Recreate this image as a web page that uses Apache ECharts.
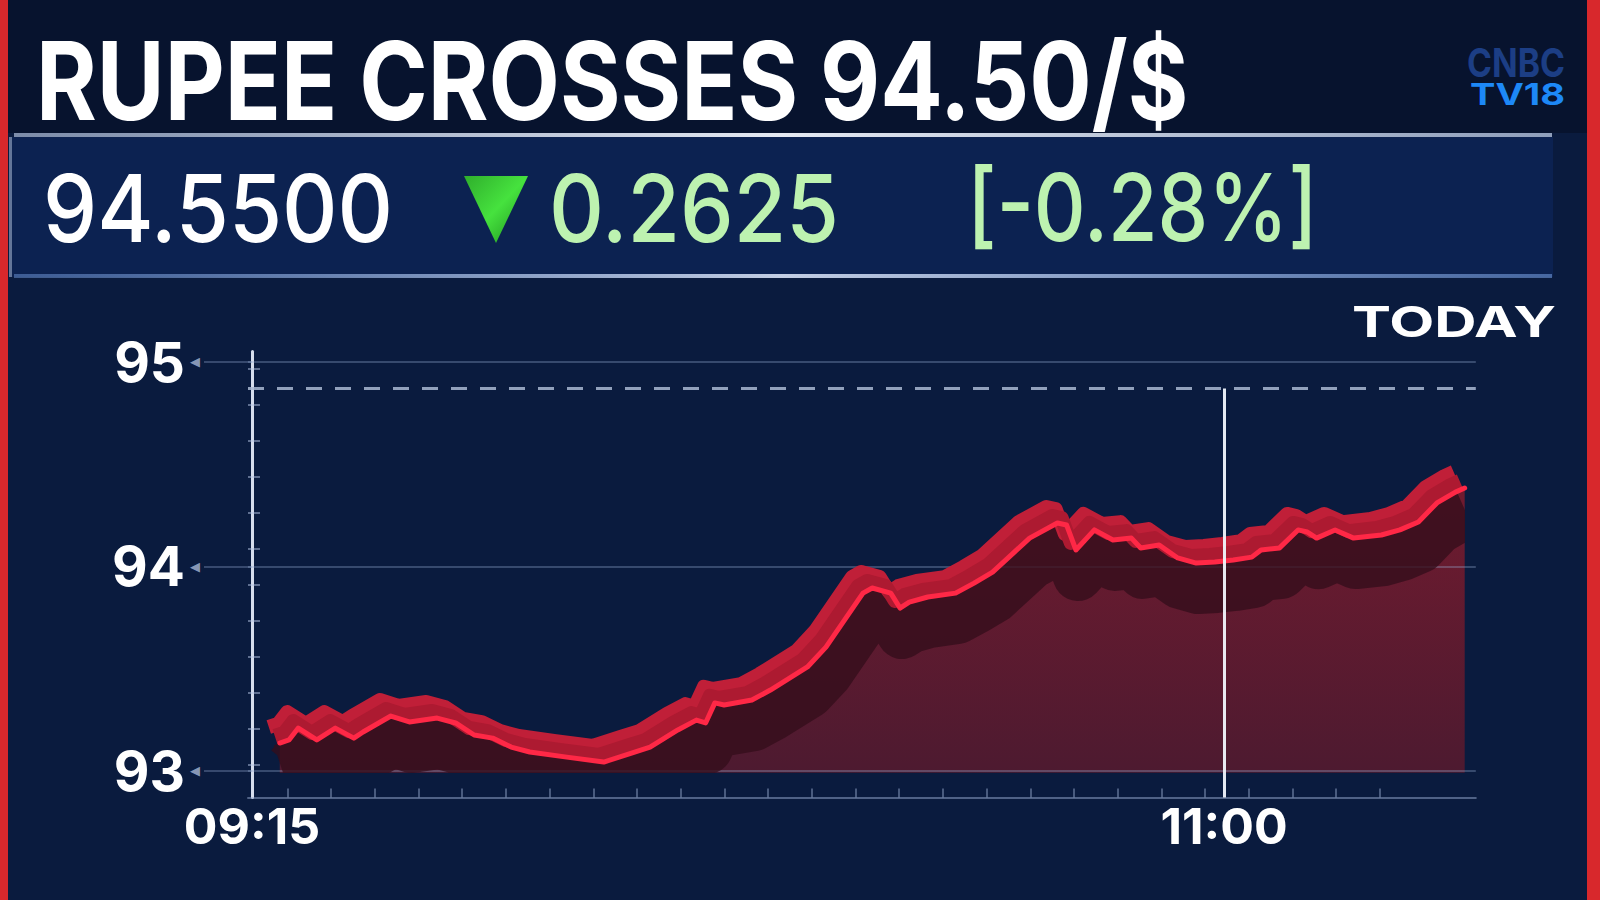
<!DOCTYPE html>
<html><head><meta charset="utf-8">
<script src="https://cdn.jsdelivr.net/npm/echarts@6/dist/echarts.min.js"></script>
<style>html,body{margin:0;padding:0;background:#0a1b3e;overflow:hidden}#c{width:1600px;height:900px}</style>
</head><body><div id="c"></div>
<script>
// ---------- DATA ----------
const times = ['09:18','09:19','09:20','09:22','09:24','09:26','09:27','09:30','09:32','09:35','09:37','09:39','09:41','09:43','09:45','09:49','09:53','09:56','09:58','10:01','10:03','10:04','10:05','10:06','10:09','10:11','10:15','10:17','10:19','10:21','10:22','10:24','10:25','10:26','10:28','10:31','10:33','10:35','10:37','10:39','10:42','10:43','10:44','10:46','10:48','10:50','10:51','10:53','10:55','10:57','10:59','11:01','11:03','11:04','11:06','11:08','11:09','11:10','11:12','11:14','11:17','11:19','11:21','11:23','11:25','11:26'];
const values = [93.136,93.151,93.209,93.151,93.209,93.160,93.190,93.268,93.239,93.258,93.234,93.175,93.160,93.116,93.092,93.067,93.043,93.087,93.116,93.200,93.248,93.234,93.332,93.322,93.346,93.395,93.508,93.605,93.737,93.869,93.894,93.869,93.796,93.825,93.850,93.869,93.918,93.972,94.055,94.138,94.212,94.202,94.080,94.178,94.129,94.138,94.090,94.104,94.041,94.016,94.021,94.031,94.045,94.080,94.090,94.178,94.168,94.138,94.178,94.138,94.153,94.178,94.217,94.310,94.363,94.383];
const xTickLabels = ['09:15','11:00'];
const yTickValues = [93,94,95];
const referenceLevel = [94.87];
const headline = 'RUPEE CROSSES 94.50/$';
const priceText = '94.5500';
const changeText = '0.2625';
const changePctText = '[-0.28%]';
const periodText = 'TODAY';
const brandTop = 'CNBC';
const brandBottom = 'TV18';

// ---------- helpers ----------
const toMin = t => { const [h, m] = t.split(':').map(Number); return h * 60 + m - (9 * 60 + 15); };
const toLabel = m => { const tot = Math.round(m) + 9 * 60 + 15; return String(Math.floor(tot / 60)).padStart(2, '0') + ':' + String(tot % 60).padStart(2, '0'); };
const pts = times.map((t, i) => [toMin(t), values[i]]);

const X_MIN = -0.432, X_MAX = 132.2, Y_MIN = 92.87, Y_MAX = 95.05, AREA_BASE = 92.99;
const GA = { left: 248, top: 351.6, width: 1227.8, height: 445.8 };
const PX_PER_UNIT = GA.height / (Y_MAX - Y_MIN);
const PX_PER_MIN = GA.width / (X_MAX - X_MIN);
const AREA_BOTTOM_PX = GA.top + (Y_MAX - AREA_BASE) * PX_PER_UNIT;
const AREA_RIGHT_PX = GA.left + (pts[pts.length - 1][0] - X_MIN) * PX_PER_MIN;
const shift = (dx, dy) => ({ left: GA.left + dx, top: GA.top + dy, width: GA.width, height: GA.height, outerBoundsMode: 'none' });
// shadow grid: shifted down, clipped at the area's base and right end (line clip expands by half the line width)
const SH_DX = 2, SH_DY = 26, SH_W = 50;
const shadowGrid = {
  left: GA.left + SH_DX, top: GA.top + SH_DY,
  width: AREA_RIGHT_PX - SH_W / 2 - (GA.left + SH_DX),
  height: AREA_BOTTOM_PX - SH_W / 2 - (GA.top + SH_DY), outerBoundsMode: 'none'
};
const SH_YMIN = Y_MAX - shadowGrid.height / PX_PER_UNIT;
const SH_XMAX = X_MIN + shadowGrid.width / PX_PER_MIN;

const xMinor = []; for (let t = 102.95; t > 0; t -= 4.72) xMinor.unshift(t); for (let t = 102.95 + 4.72; t < 122; t += 4.72) xMinor.push(t);
const yMinor = []; for (let k = 0.9; k < 12.3; k += 1) yMinor.push(k);

const mctx = document.createElement('canvas').getContext('2d');
function fitText(text, font, left, capMid, width, fill, extra) {
  mctx.font = font;
  const w = mctx.measureText(text).width;
  return Object.assign({
    type: 'text', x: left, y: capMid, scaleX: width / w, z: 20,
    style: { text, font, fill, textAlign: 'left', textVerticalAlign: 'middle', align: 'left', verticalAlign: 'middle' }
  }, extra || {});
}

const hiddenX = (gi, mx) => ({ type: 'value', gridIndex: gi, min: X_MIN, max: mx, show: false });
const hiddenY = (gi, mn) => ({ type: 'value', gridIndex: gi, min: mn, max: Y_MAX, show: false });

const chart = echarts.init(document.getElementById('c'), null, { renderer: 'svg', width: 1600, height: 900 });
const LG = echarts.graphic.LinearGradient;

chart.setOption({
  animation: false,
  backgroundColor: '#0a1b3e',
  grid: [Object.assign({}, GA, { outerBoundsMode: 'none' }), shift(-5, -7), shift(-11, -16), shadowGrid],
  xAxis: [
    {
      type: 'value', gridIndex: 0, min: X_MIN, max: X_MAX,
      axisLine: { show: true, lineStyle: { color: 'rgba(150,170,205,0.5)', width: 2 } },
      axisTick: { show: true, inside: true, length: 9, customValues: xMinor, lineStyle: { color: 'rgba(150,170,205,0.45)', width: 2 } },
      axisLabel: {
        show: true, customValues: xTickLabels.map(toMin), formatter: v => toLabel(v),
        color: '#ffffff', fontFamily: 'Inter', fontWeight: 'bold', fontSize: 50,
        verticalAlign: 'middle', margin: 29
      },
      splitLine: { show: false }
    },
    hiddenX(1, X_MAX), hiddenX(2, X_MAX), hiddenX(3, SH_XMAX)
  ],
  yAxis: [
    {
      type: 'value', gridIndex: 0, min: Y_MIN, max: Y_MAX,
      axisLine: { show: true, lineStyle: { color: 'rgba(225,232,245,0.95)', width: 3 } },
      axisTick: { show: true, inside: false, length: 48, customValues: yTickValues, lineStyle: { color: 'rgba(140,160,200,0.35)', width: 2 } },
      axisLabel: {
        show: true, customValues: yTickValues, margin: 48,
        formatter: v => '{n|' + v + '}{a|◀}',
        rich: {
          n: { color: '#ffffff', fontFamily: 'Inter', fontWeight: 'bold', fontSize: 55 },
          a: { color: 'rgba(170,185,215,0.8)', fontSize: 13, padding: [0, 0, 0, 5] }
        }
      },
      splitLine: { show: false }
    },
    {
      type: 'value', gridIndex: 0, min: 0, max: 12.38, position: 'left', offset: 0,
      axisLine: { show: false },
      axisTick: { show: true, inside: true, length: 12, customValues: yMinor, lineStyle: { color: 'rgba(180,195,225,0.5)', width: 2 } },
      axisLabel: { show: false }, splitLine: { show: false }
    },
    hiddenY(1, Y_MIN), hiddenY(2, Y_MIN), hiddenY(3, SH_YMIN)
  ],
  series: [
    {
      name: 'area', type: 'line', xAxisIndex: 0, yAxisIndex: 0, data: pts, symbol: 'none', z: 2,
      lineStyle: { width: 0, opacity: 0 },
      areaStyle: { origin: AREA_BASE, opacity: 1, color: new LG(0, 0, 0, 1, [{ offset: 0, color: '#701b2f' }, { offset: 1, color: '#4d1a30' }]) },
      markLine: {
        z: 3, silent: true, symbol: ['none', 'none'], label: { show: false },
        lineStyle: { color: 'rgba(150,170,210,0.33)', width: 2, type: 'solid' },
        data: yTickValues.map(v => ({ yAxis: v }))
      }
    },
    {
      name: 'shadow', type: 'line', xAxisIndex: 3, yAxisIndex: 4, data: pts, symbol: 'none', z: 4,
      lineStyle: { width: SH_W, color: 'rgba(52,14,28,0.8)', join: 'round', cap: 'butt' }
    },
    {
      name: 'ribbonTop', type: 'line', xAxisIndex: 2, yAxisIndex: 3, data: pts, symbol: 'none', z: 5,
      lineStyle: { width: 14, color: '#c01f38', join: 'round', cap: 'butt' }
    },
    {
      name: 'ribbon', type: 'line', xAxisIndex: 1, yAxisIndex: 2, data: pts, symbol: 'none', z: 5,
      lineStyle: { width: 14, color: '#ad1a31', join: 'round', cap: 'butt' }
    },
    {
      name: 'USD/INR', type: 'line', xAxisIndex: 0, yAxisIndex: 0, data: pts, symbol: 'none', z: 6,
      lineStyle: { width: 5, color: '#ff2846', join: 'round', cap: 'round' },
      markLine: {
        z: 7, silent: true, symbol: ['none', 'none'], label: { show: false },
        data: [
          { yAxis: referenceLevel[0], lineStyle: { color: 'rgba(170,185,210,0.85)', width: 3, type: [16, 13] } },
          [
            { coord: [toMin(xTickLabels[1]), referenceLevel[0]], lineStyle: { color: 'rgba(240,244,252,0.95)', width: 3, type: 'solid' } },
            { coord: [toMin(xTickLabels[1]), Y_MIN] }
          ]
        ]
      }
    }
  ],
  graphic: [
    { type: 'rect', shape: { x: 0, y: 0, width: 1600, height: 133 }, style: { fill: '#07132e' }, z: 0 },
    { type: 'rect', shape: { x: 12, y: 137, width: 1541, height: 140 }, style: { fill: '#0c2251' }, z: 0 },
    { type: 'rect', shape: { x: 14, y: 133, width: 1538, height: 4 }, style: { fill: new LG(0, 0, 1, 0, [{ offset: 0, color: 'rgba(200,215,240,0.6)' }, { offset: 0.5, color: 'rgba(240,244,252,0.95)' }, { offset: 1, color: 'rgba(200,215,240,0.7)' }]) }, z: 1 },
    { type: 'rect', shape: { x: 14, y: 274, width: 1538, height: 4 }, style: { fill: new LG(0, 0, 1, 0, [{ offset: 0, color: 'rgba(110,150,215,0.5)' }, { offset: 0.5, color: 'rgba(215,225,245,0.9)' }, { offset: 1, color: 'rgba(110,150,215,0.6)' }]) }, z: 1 },
    { type: 'rect', shape: { x: 9, y: 137, width: 3, height: 140 }, style: { fill: 'rgba(160,180,215,0.6)' }, z: 1 },
    { type: 'rect', shape: { x: 0, y: 0, width: 8, height: 900 }, style: { fill: '#d8282c' }, z: 30 },
    { type: 'rect', shape: { x: 1587, y: 0, width: 13, height: 900 }, style: { fill: '#d8282c' }, z: 30 },
    {
      type: 'polygon', shape: { points: [[464, 176], [528, 176], [496, 243]] }, z: 20,
      style: { fill: new LG(0, 0, 1, 1, [{ offset: 0, color: '#2fae2c' }, { offset: 0.5, color: '#46e23e' }, { offset: 1, color: '#1c8f1c' }]) }
    },
    fitText(headline, 'bold 109px Inter', 36, 80.5, 1153, '#ffffff'),
    fitText(priceText, '500 94px Inter', 43, 208, 350, '#ffffff'),
    fitText(changeText, '500 94px Inter', 549, 208, 290, '#bdf2b0'),
    fitText(changePctText, '500 94px Inter', 967, 207, 351, '#bdf2b0'),
    fitText(periodText, 'bold 43px Inter', 1352, 321.5, 204, '#ffffff'),
    fitText(brandTop, 'bold 40px Inter', 1467, 62.5, 98, '#1c3e85'),
    fitText(brandBottom, 'bold 30px Inter', 1470, 94, 95, '#1d88f7')
  ]
});
</script></body></html>
